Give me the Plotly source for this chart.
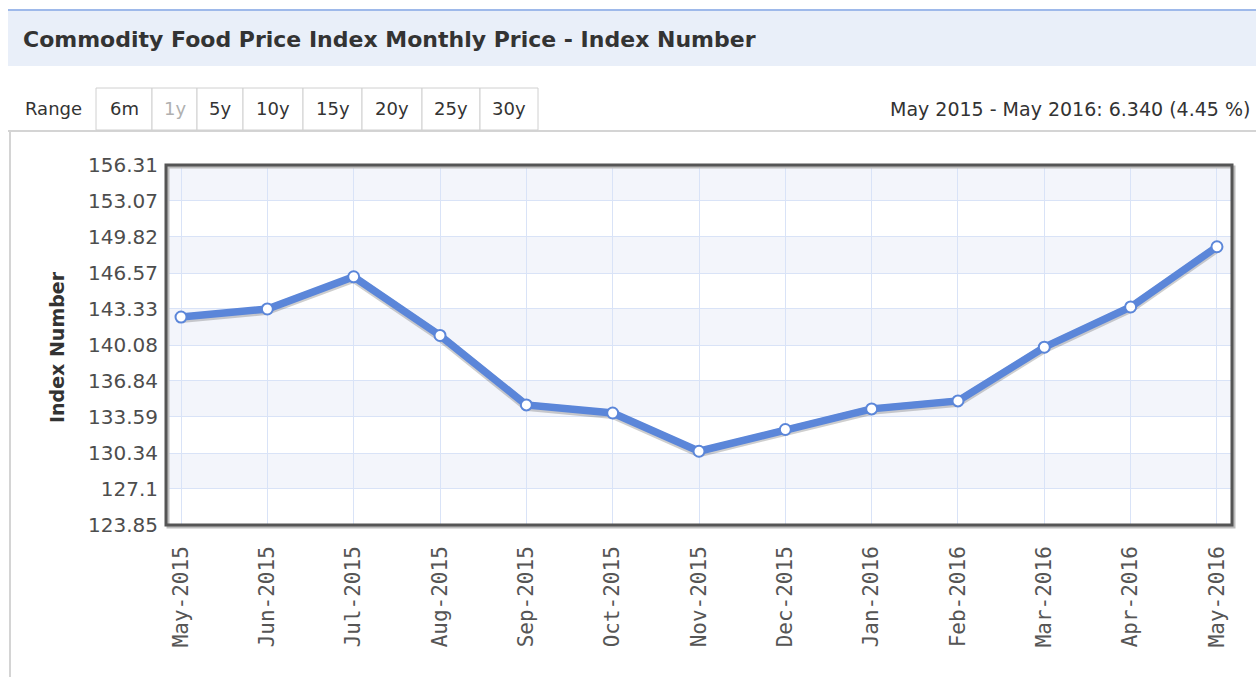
import plotly.graph_objects as go

# ---- data -------------------------------------------------------------
months = ["May-2015", "Jun-2015", "Jul-2015", "Aug-2015", "Sep-2015", "Oct-2015",
          "Nov-2015", "Dec-2015", "Jan-2016", "Feb-2016", "Mar-2016", "Apr-2016",
          "May-2016"]
index_values = [142.60, 143.33, 146.23, 140.94, 134.68, 133.95,
                130.50, 132.46, 134.32, 135.04, 139.88, 143.51,
                148.94]
y_tick_labels = ["123.85", "127.1", "130.34", "133.59", "136.84", "140.08",
                 "143.33", "146.57", "149.82", "153.07", "156.31"]
range_buttons = ["6m", "1y", "5y", "10y", "15y", "20y", "25y", "30y"]
title_text = "Commodity Food Price Index Monthly Price - Index Number"
change_text = "May 2015 - May 2016: 6.340 (4.45 %)"

# ---- page geometry (pixels) --------------------------------------------
W, H = 1256, 677
PLOT_L, PLOT_R, PLOT_T, PLOT_B = 166, 1232, 165, 525


def px(x):
    return x / W


def py(y):
    return 1 - y / H


y_ticks = [float(v) for v in y_tick_labels]

LINE_BLUE = "#5b86d9"
GRID = "#d9e3f7"
BAND = "#f3f5fb"
SANS = "DejaVu Sans, Verdana, sans-serif"

# shadow sits slightly below the series line
shadow_values = [v - 0.13 for v in index_values]

fig = go.Figure()

fig.add_trace(go.Scatter(
    x=months, y=shadow_values, mode="lines",
    line=dict(color="rgba(60,60,60,0.25)", width=9),
    hoverinfo="skip", showlegend=False,
))
fig.add_trace(go.Scatter(
    x=months, y=index_values, mode="lines+markers",
    line=dict(color=LINE_BLUE, width=7.5),
    marker=dict(size=11, color="white", line=dict(color=LINE_BLUE, width=2)),
    showlegend=False, name="Index Number",
))

shapes = []

# alternating plot bands between every other pair of ticks
for i in range(len(y_ticks) - 1, 0, -2):
    shapes.append(dict(type="rect", xref="x domain", yref="y",
                       x0=0, x1=1, y0=y_ticks[i - 1], y1=y_ticks[i],
                       fillcolor=BAND, line=dict(width=0), layer="below"))

# header strip
shapes.append(dict(type="rect", xref="paper", yref="paper",
                   x0=px(8), x1=1, y0=py(66), y1=py(11),
                   fillcolor="#e9eff9", line=dict(width=0), layer="below"))
shapes.append(dict(type="line", xref="paper", yref="paper",
                   x0=px(8), x1=1, y0=py(10), y1=py(10),
                   line=dict(color="#7ea2e3", width=1.5)))

# chart container border
shapes.append(dict(type="line", xref="paper", yref="paper",
                   x0=px(8), x1=1, y0=py(131), y1=py(131),
                   line=dict(color="#d4d4d4", width=2)))
shapes.append(dict(type="line", xref="paper", yref="paper",
                   x0=px(10), x1=px(10), y0=py(131), y1=0,
                   line=dict(color="#d4d4d4", width=2)))

# range selector buttons
button_widths = [56, 45, 46, 60, 59, 60, 58, 58]
annotations = []
bx = 96
for label, bw in zip(range_buttons, button_widths):
    shapes.append(dict(type="rect", xref="paper", yref="paper",
                       x0=px(bx), x1=px(bx + bw), y0=py(130), y1=py(88),
                       fillcolor="white", line=dict(color="#d0d0d0", width=1)))
    annotations.append(dict(xref="paper", yref="paper", x=px(bx + bw / 2), y=py(108),
                            text=label, showarrow=False, xanchor="center", yanchor="middle",
                            font=dict(family=SANS, size=18,
                                      color="#b0b0b0" if label == "1y" else "#333333")))
    bx += bw

# plot frame with a light drop shadow
shapes.append(dict(type="rect", xref="paper", yref="paper",
                   x0=px(PLOT_L + 2), x1=px(PLOT_R + 2), y0=py(PLOT_B + 2), y1=py(PLOT_T + 2),
                   line=dict(color="#bdbdbd", width=3)))
shapes.append(dict(type="rect", xref="paper", yref="paper",
                   x0=px(PLOT_L), x1=px(PLOT_R), y0=py(PLOT_B), y1=py(PLOT_T),
                   line=dict(color="#555555", width=3)))

annotations += [
    dict(xref="paper", yref="paper", x=px(21), y=py(39), text="<b>" + title_text + "</b>",
         showarrow=False, xanchor="left", yanchor="middle",
         font=dict(family=SANS, size=22, color="#333333")),
    dict(xref="paper", yref="paper", x=px(23), y=py(109), text="Range",
         showarrow=False, xanchor="left", yanchor="middle",
         font=dict(family=SANS, size=18, color="#333333")),
    dict(xref="paper", yref="paper", x=px(1252), y=py(109), text=change_text,
         showarrow=False, xanchor="right", yanchor="middle",
         font=dict(family=SANS, size=19, color="#333333")),
    dict(xref="paper", yref="paper", x=px(57), y=py(347), text="<b>Index Number</b>",
         showarrow=False, xanchor="center", yanchor="middle", textangle=-90,
         font=dict(family=SANS, size=19, color="#333333")),
]

fig.update_layout(
    width=W, height=H, autosize=False,
    margin=dict(l=0, r=0, t=0, b=0, pad=0, autoexpand=False),
    paper_bgcolor="white", plot_bgcolor="white",
    shapes=shapes, annotations=annotations,
    showlegend=False,
    xaxis=dict(
        domain=[px(PLOT_L), px(PLOT_R)],
        type="category", range=[-0.174, len(months) - 1 + 0.174],
        showgrid=True, gridcolor=GRID, gridwidth=1,
        tickangle=-90, ticks="", ticklabelstandoff=16,
        tickfont=dict(family="DejaVu Sans Mono", size=21, color="#555555"),
        zeroline=False, showline=False, fixedrange=True, automargin=False,
    ),
    yaxis=dict(
        domain=[py(PLOT_B), py(PLOT_T)],
        range=[y_ticks[0], y_ticks[-1]],
        tickvals=y_ticks, ticktext=y_tick_labels,
        showgrid=True, gridcolor=GRID, gridwidth=1,
        ticks="", ticklabelstandoff=7,
        tickfont=dict(family=SANS, size=20, color="#4d4d4d"),
        zeroline=False, showline=False, fixedrange=True, automargin=False,
    ),
)

fig.write_html("out.html")
